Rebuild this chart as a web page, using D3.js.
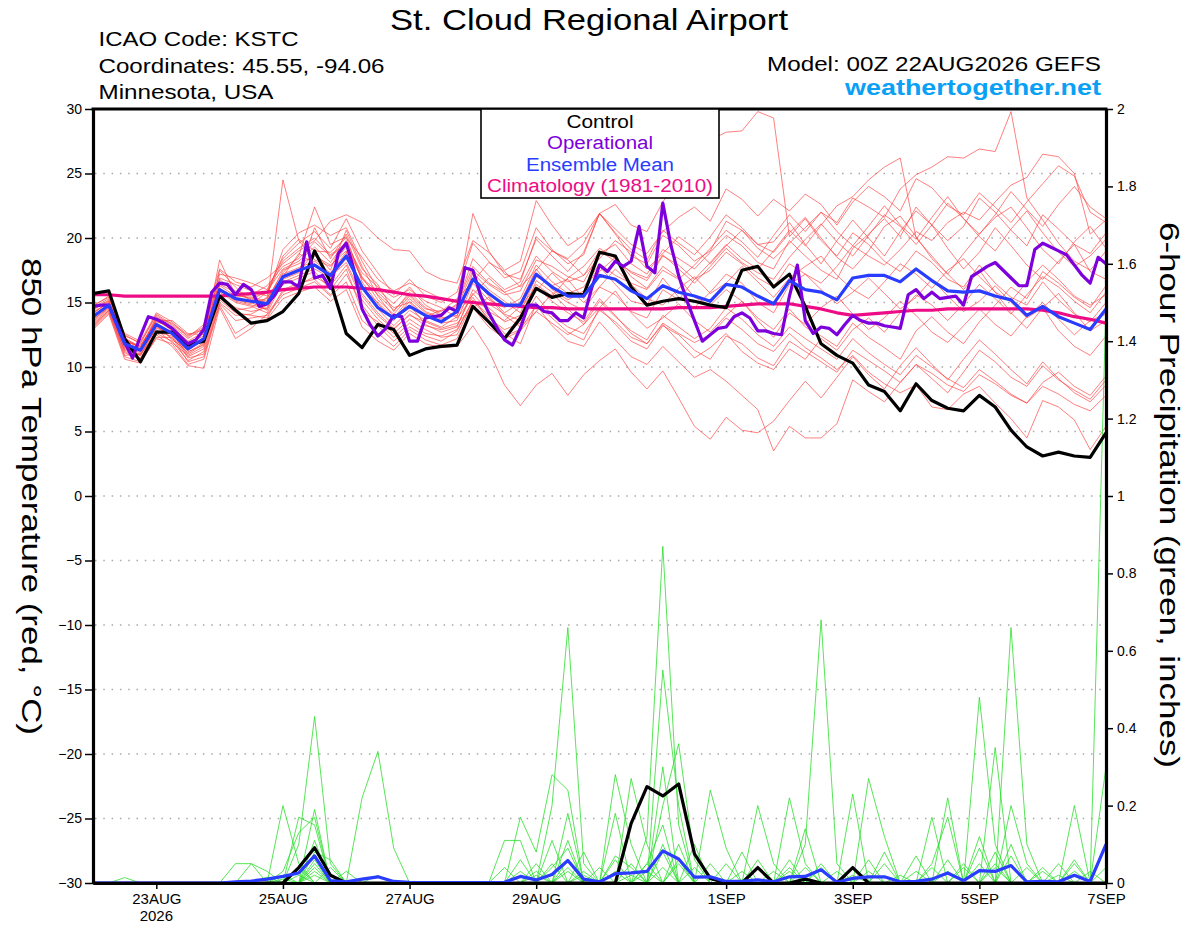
<!DOCTYPE html>
<html>
<head>
<meta charset="utf-8">
<script src="https://cdn.jsdelivr.net/npm/d3@7"></script>
<style>
  body { margin: 0; background: #fff; }
  svg { display: block; font-family: "Liberation Sans", Arial, Helvetica, sans-serif; }
</style>
</head>
<body>
<svg id="chart" width="1200" height="927"></svg>
<script>
const runStart = '2026-08-22T00:00:00Z'
const runEnd = '2026-09-07T00:00:00Z'
const tickDates = ['2026-08-23', '2026-08-25', '2026-08-27', '2026-08-29', '2026-09-01', '2026-09-03', '2026-09-05', '2026-09-07']
const tickLabels = ['23AUG', '25AUG', '27AUG', '29AUG', '1SEP', '3SEP', '5SEP', '7SEP']
const tempTicks = [30, 25, 20, 15, 10, 5, 0, -5, -10, -15, -20, -25, -30]
const precipTicks = [0, 0.2, 0.4, 0.6, 0.8, 1, 1.2, 1.4, 1.6, 1.8, 2]

const controlTemp = [15.7, 15.9, 12.2, 10.4, 12.7, 12.7, 11.7, 12.0, 15.5, 14.4,
  13.4, 13.6, 14.3, 15.7, 19.0, 16.6, 12.6, 11.5, 13.3, 12.9,
  10.9, 11.4, 11.6, 11.7, 14.7, 13.5, 12.2, 13.8, 16.1, 15.4,
  15.7, 15.6, 18.9, 18.6, 16.2, 14.8, 15.1, 15.3, 15.1, 14.8,
  14.6, 17.5, 17.8, 16.2, 17.2, 14.7, 11.8, 10.9, 10.3, 8.6,
  8.1, 6.6, 8.7, 7.4, 6.8, 6.6, 7.8, 6.9, 5.1, 3.8,
  3.1, 3.4, 3.1, 3.0, 4.9]

const meanTemp = [13.9, 14.8, 11.8, 11.3, 13.3, 12.6, 11.4, 12.2, 16.0, 15.3,
  15.1, 14.9, 17.0, 17.5, 17.9, 17.1, 18.6, 16.2, 14.6, 13.8,
  14.7, 14.0, 13.5, 14.3, 16.8, 15.7, 14.8, 14.8, 17.2, 16.2,
  15.5, 15.5, 17.1, 16.8, 15.9, 15.3, 16.3, 15.8, 15.5, 15.1,
  16.4, 16.2, 15.5, 14.9, 16.7, 16.0, 15.8, 15.2, 16.9, 17.1,
  17.1, 16.6, 17.6, 16.7, 15.9, 15.8, 15.9, 15.5, 15.2, 14.0,
  14.7, 13.9, 13.4, 12.9, 14.5]

const climoTemp = [15.6, 15.6, 15.5, 15.5, 15.5, 15.5, 15.5, 15.5, 15.5, 15.6,
  15.7, 15.8, 16.0, 16.1, 16.2, 16.2, 16.2, 16.1, 16.0, 15.8,
  15.6, 15.5, 15.3, 15.1, 15.0, 14.9, 14.8, 14.7, 14.6, 14.6,
  14.5, 14.5, 14.5, 14.5, 14.5, 14.5, 14.5, 14.6, 14.6, 14.6,
  14.7, 14.8, 14.9, 14.9, 14.9, 14.7, 14.5, 14.2, 14.0, 14.1,
  14.2, 14.3, 14.4, 14.4, 14.5, 14.5, 14.5, 14.5, 14.5, 14.5,
  14.4, 14.2, 13.9, 13.7, 13.4]

// operational run is 3-hourly
const operationalTemp = [14.7, 14.8, 14.8, 13.4, 11.9, 10.7, 12.4, 13.9, 13.7, 13.4,
  13.0, 12.4, 11.8, 12.1, 12.9, 15.8, 16.5, 16.4, 15.6, 16.4,
  16.0, 14.7, 14.9, 15.6, 16.6, 16.6, 16.2, 19.7, 16.9, 17.1,
  16.1, 18.8, 19.6, 17.5, 14.5, 13.3, 12.4, 13.0, 14.0, 13.9,
  12.0, 12.0, 13.8, 13.9, 14.0, 14.6, 14.3, 17.7, 17.5, 15.5,
  14.2, 13.1, 12.1, 11.7, 13.0, 14.8, 14.8, 14.3, 14.2, 13.6,
  13.6, 14.2, 13.8, 16.1, 17.9, 17.4, 18.2, 17.8, 18.2, 20.9,
  17.8, 17.3, 22.7, 19.5, 17.1, 15.2, 13.6, 12.0, 12.5, 13.0,
  13.1, 13.9, 14.2, 13.8, 12.8, 12.8, 12.6, 12.5, 15.5, 17.9,
  13.6, 12.6, 13.1, 13.0, 12.5, 13.3, 14.0, 13.6, 13.4, 13.4,
  13.2, 13.1, 13.0, 15.6, 16.0, 15.3, 15.8, 15.3, 15.4, 15.5,
  14.8, 17.0, 17.4, 17.8, 18.1, 17.5, 16.9, 16.3, 16.3, 19.1,
  19.6, 19.3, 19.0, 18.7, 17.9, 17.1, 16.5, 18.5, 18.0]

const memberTemps = [
  [14.2, 15.0, 12.0, 11.6, 13.6, 12.9, 11.8, 12.6, 16.4, 15.8, 15.2, 15.9, 17.6, 18.2, 19.3, 18.1, 19.8, 17.0, 15.2, 14.1, 15.5, 14.3, 13.8, 14.0, 16.9, 15.5, 14.2, 15.0, 17.6, 16.0, 15.2, 15.9, 17.8, 16.4, 15.1, 14.8, 16.9, 15.4, 14.6, 15.8, 17.2, 16.5, 15.0, 14.2, 16.4, 17.2, 16.0, 14.9, 15.8, 16.9, 15.7, 14.5, 15.4, 16.8, 15.5, 14.3, 15.1, 16.3, 15.0, 13.8, 14.6, 15.7, 14.2, 12.8, 13.6],
  [13.2, 14.4, 11.1, 10.6, 12.6, 12.0, 10.5, 11.2, 15.2, 14.2, 14.0, 13.8, 16.0, 16.5, 16.8, 15.6, 17.2, 14.8, 13.2, 12.0, 13.1, 12.4, 12.0, 12.8, 15.2, 14.0, 12.6, 11.8, 14.9, 13.8, 12.7, 12.1, 14.6, 13.3, 12.0, 11.4, 13.2, 12.5, 11.3, 10.6, 12.4, 11.8, 10.7, 10.1, 12.0, 11.2, 10.4, 9.6, 11.3, 10.5, 9.7, 8.8, 10.2, 9.5, 8.6, 8.1, 9.4, 8.7, 7.8, 7.2, 8.5, 7.9, 7.1, 6.6, 7.8],
  [14.8, 15.4, 12.4, 11.9, 14.0, 13.2, 12.2, 13.0, 17.2, 16.9, 16.5, 16.0, 18.4, 19.6, 20.5, 19.2, 21.5, 19.0, 17.3, 15.6, 16.8, 15.5, 15.0, 15.8, 19.6, 18.2, 16.9, 17.4, 20.8, 19.1, 18.0, 18.7, 21.9, 20.3, 18.6, 18.0, 20.2, 19.4, 18.2, 19.0, 21.3, 20.6, 19.2, 18.4, 19.6, 20.8, 22.0, 20.5, 19.4, 20.9, 22.5, 21.0, 19.9, 21.6, 23.2, 21.5, 20.1, 19.0, 20.7, 22.1, 20.4, 18.9, 17.8, 18.6, 19.9],
  [13.6, 14.7, 11.5, 10.9, 13.1, 12.5, 11.0, 11.8, 15.8, 15.0, 14.7, 14.2, 16.6, 17.1, 17.6, 16.9, 18.4, 16.3, 14.5, 13.2, 14.4, 13.6, 13.1, 13.9, 17.3, 16.0, 15.1, 14.2, 17.0, 16.3, 16.8, 15.3, 17.4, 18.5, 17.0, 16.1, 17.8, 16.9, 15.4, 14.8, 16.0, 15.1, 13.8, 12.9, 14.5, 13.1, 12.4, 11.6, 13.4, 12.3, 11.5, 10.6, 12.8, 13.9, 12.7, 11.8, 13.5, 14.8, 16.2, 15.3, 17.4, 16.5, 15.4, 14.6, 16.3],
  [13.0, 14.2, 10.8, 10.4, 12.2, 11.8, 10.2, 10.6, 14.8, 12.6, 13.4, 13.7, 15.3, 15.8, 16.2, 15.1, 16.0, 13.1, 12.0, 11.3, 12.6, 11.8, 11.5, 11.6, 13.2, 11.3, 8.6, 7.0, 8.6, 9.5, 7.8, 9.4, 10.5, 11.4, 9.6, 8.3, 9.7, 7.6, 5.4, 4.4, 6.1, 5.1, 4.9, 5.8, 7.4, 8.9, 7.6, 9.2, 10.8, 9.4, 8.3, 10.1, 11.5, 10.2, 9.0, 10.6, 12.1, 11.0, 9.8, 8.7, 10.4, 9.1, 8.0, 7.3, 8.6],
  [14.4, 15.2, 12.3, 11.4, 13.8, 13.4, 12.5, 12.9, 16.9, 16.4, 15.9, 15.5, 19.1, 20.4, 21.0, 20.2, 20.8, 18.2, 16.0, 14.9, 16.2, 14.8, 14.1, 14.8, 18.4, 17.1, 16.0, 16.6, 20.1, 19.0, 18.4, 19.6, 21.9, 22.6, 21.0, 20.5, 22.8, 24.5, 25.8, 27.6, 28.2, 28.3, 29.8, 29.3, 20.1, 21.5, 19.8, 18.6, 20.4, 19.5, 18.2, 17.4, 19.0, 18.1, 16.8, 16.2, 17.9, 16.5, 15.4, 14.8, 16.6, 15.2, 14.1, 13.5, 15.0],
  [13.8, 14.9, 11.7, 11.2, 13.4, 12.1, 11.3, 12.1, 18.3, 15.6, 15.3, 15.0, 24.5, 19.8, 18.3, 17.8, 19.3, 16.9, 15.8, 14.6, 15.0, 13.9, 14.4, 14.6, 17.5, 16.4, 15.6, 15.9, 18.3, 17.8, 17.0, 16.6, 18.8, 19.5, 18.0, 17.2, 19.1, 18.4, 17.6, 18.9, 20.2, 19.4, 18.1, 17.6, 19.8, 18.6, 17.5, 16.8, 19.2, 20.3, 21.5, 20.1, 22.4, 21.0, 19.8, 20.9, 23.1, 22.0, 20.6, 19.4, 21.8, 20.7, 19.5, 18.8, 20.4],
  [13.4, 14.5, 11.3, 10.9, 12.8, 12.7, 10.8, 11.4, 15.5, 14.6, 14.3, 14.6, 16.9, 17.4, 18.9, 17.5, 20.6, 17.8, 15.5, 13.9, 14.8, 13.3, 12.7, 13.1, 16.0, 14.9, 14.1, 13.6, 16.7, 15.8, 15.0, 14.4, 16.2, 15.6, 14.3, 13.8, 16.0, 15.2, 16.8, 18.1, 19.5, 18.4, 17.6, 19.0, 20.6, 19.4, 21.0, 22.5, 23.2, 24.5, 25.5, 26.2, 20.0, 18.6, 17.2, 16.0, 17.5, 15.8, 14.2, 13.0, 14.6, 12.8, 11.6, 10.9, 12.4],
  [14.0, 14.8, 12.1, 11.5, 13.9, 13.0, 11.9, 12.4, 16.1, 15.3, 15.0, 15.3, 17.3, 18.6, 22.4, 19.5, 20.1, 16.6, 14.9, 13.6, 15.1, 14.0, 13.4, 13.6, 16.5, 15.2, 14.6, 15.3, 17.9, 16.6, 15.7, 16.2, 18.0, 17.1, 16.5, 16.0, 17.5, 16.8, 17.9, 19.2, 20.6, 19.7, 18.5, 20.2, 21.8, 20.5, 22.0, 21.2, 23.1, 22.4, 21.6, 23.8, 24.9, 25.5, 26.3, 26.2, 26.9, 26.7, 29.8, 23.1, 21.4, 19.6, 18.2, 17.5, 19.0],
  [13.1, 14.3, 10.9, 11.0, 12.5, 11.6, 10.1, 9.9, 14.6, 12.2, 13.0, 14.1, 15.8, 16.4, 17.0, 16.3, 17.9, 15.2, 13.7, 12.6, 13.7, 12.9, 12.3, 12.5, 15.0, 14.6, 13.5, 14.0, 16.4, 15.5, 16.9, 17.8, 19.2, 18.4, 17.3, 16.7, 18.6, 17.9, 16.8, 17.5, 18.9, 18.0, 16.9, 16.2, 18.0, 17.2, 16.5, 17.8, 19.4, 18.6, 17.9, 19.1, 20.5, 19.8, 21.2, 22.0, 21.4, 22.8, 24.1, 24.7, 26.5, 26.3, 25.0, 20.3, 21.4],
  [14.6, 15.3, 12.6, 12.0, 14.2, 13.5, 12.3, 13.3, 17.6, 16.6, 16.2, 16.9, 18.0, 19.0, 19.8, 21.3, 21.8, 21.2, 20.0, 19.1, 19.0, 17.4, 16.8, 16.5, 19.8, 18.9, 17.5, 18.2, 22.9, 21.0, 19.4, 20.2, 21.9, 20.7, 19.5, 18.8, 20.5, 21.6, 22.4, 21.3, 23.8, 23.0, 21.7, 23.0, 22.1, 23.4, 22.6, 21.0, 22.8, 24.0, 23.2, 22.1, 24.6, 23.9, 22.5, 21.8, 23.5, 22.4, 21.2, 22.8, 24.2, 25.6, 24.8, 22.0, 21.2],
  [13.7, 14.6, 11.6, 11.1, 13.2, 12.2, 11.1, 11.9, 15.9, 15.1, 14.8, 14.5, 17.2, 17.7, 18.2, 17.3, 18.9, 15.7, 14.2, 13.0, 14.0, 13.5, 13.0, 13.4, 14.6, 15.4, 14.0, 13.1, 14.3, 15.7, 14.5, 13.3, 14.6, 15.9, 14.2, 13.0, 13.8, 14.9, 13.6, 12.7, 14.0, 15.1, 13.6, 12.3, 14.2, 13.3, 14.6, 15.5, 14.1, 12.9, 13.8, 15.1, 14.0, 12.7, 11.9, 13.2, 14.5, 13.3, 12.4, 13.9, 15.0, 13.7, 12.5, 13.6, 14.1],
  [14.1, 15.1, 11.9, 11.7, 13.5, 13.1, 12.0, 12.7, 16.6, 15.9, 15.6, 16.3, 17.8, 18.4, 19.7, 18.6, 19.5, 17.3, 16.2, 15.4, 16.0, 15.1, 14.6, 13.8, 15.4, 13.6, 12.4, 12.9, 14.8, 13.2, 12.0, 11.6, 13.5, 12.1, 10.8, 10.2, 11.6, 10.4, 9.2, 9.8, 8.9, 7.8, 6.7, 3.5, 5.4, 4.5, 4.5, 5.6, 9.0, 8.1, 7.3, 8.8, 10.2, 9.1, 8.0, 9.6, 11.3, 10.4, 9.2, 8.5, 10.1, 9.0, 8.2, 7.5, 9.0],
  [13.3, 14.4, 11.2, 10.7, 12.7, 12.4, 10.7, 11.0, 15.0, 14.0, 14.1, 14.8, 16.4, 16.9, 17.4, 16.0, 17.6, 14.3, 13.5, 12.3, 13.4, 12.6, 12.4, 12.9, 15.1, 13.8, 12.9, 13.4, 15.5, 14.0, 13.1, 12.6, 14.4, 13.5, 12.3, 11.8, 13.4, 12.6, 11.9, 12.5, 13.8, 12.9, 11.8, 11.2, 12.6, 11.5, 10.7, 9.8, 10.9, 9.6, 8.7, 8.0, 8.6, 6.9, 6.7, 7.9, 8.5, 7.2, 6.0, 4.5, 7.4, 6.9, 5.9, 3.6, 5.4],
  [14.3, 14.9, 12.2, 11.3, 13.7, 12.8, 11.6, 12.2, 16.3, 15.5, 15.4, 15.1, 17.5, 18.0, 18.6, 17.9, 19.0, 16.1, 15.0, 13.8, 15.3, 14.2, 13.7, 14.2, 15.6, 16.9, 15.8, 14.6, 15.9, 17.3, 16.1, 15.0, 16.2, 17.6, 16.4, 15.3, 14.8, 16.1, 17.0, 15.7, 16.5, 17.8, 16.6, 15.4, 16.9, 17.8, 18.6, 17.1, 16.0, 15.3, 16.6, 18.0, 17.2, 16.1, 17.5, 18.4, 17.0, 15.8, 15.1, 16.6, 17.9, 16.8, 15.5, 14.8, 15.6],
  [13.5, 14.6, 11.4, 11.0, 13.0, 12.6, 11.2, 11.7, 17.5, 16.2, 15.0, 14.4, 16.8, 17.3, 20.8, 18.4, 20.3, 17.6, 16.4, 14.3, 15.8, 14.6, 14.0, 14.9, 17.8, 16.5, 15.8, 16.3, 18.6, 17.4, 16.6, 17.1, 19.0, 18.2, 17.4, 16.9, 18.7, 17.6, 16.5, 17.8, 19.2, 18.1, 17.3, 16.8, 18.5, 19.9, 21.1, 19.7, 18.6, 20.2, 21.8, 20.9, 19.5, 21.0, 22.7, 21.5, 20.3, 21.8, 23.6, 22.2, 20.9, 22.6, 24.0, 22.4, 21.5],
  [14.7, 15.5, 12.5, 11.8, 14.1, 13.3, 12.4, 13.1, 15.4, 14.4, 14.6, 15.4, 17.0, 18.8, 18.0, 17.0, 18.1, 15.5, 14.0, 12.9, 14.1, 13.2, 12.9, 13.2, 15.7, 14.3, 13.6, 14.7, 16.2, 15.1, 14.2, 13.5, 15.3, 14.0, 12.6, 11.8, 13.3, 12.0, 10.7, 11.5, 12.6, 11.2, 10.3, 9.8, 11.4, 10.6, 12.2, 11.3, 12.9, 13.8, 12.7, 14.2, 15.6, 14.8, 13.6, 14.9, 16.4, 15.3, 14.1, 15.6, 17.0, 16.2, 15.1, 14.2, 15.8],
  [13.9, 14.7, 11.8, 11.3, 12.9, 11.9, 10.9, 11.6, 16.8, 15.7, 15.5, 15.7, 18.2, 19.2, 20.0, 18.7, 19.6, 16.8, 15.6, 14.4, 15.6, 14.5, 14.3, 15.3, 16.6, 18.1, 17.4, 16.2, 17.5, 19.0, 18.3, 17.1, 18.4, 19.8, 18.9, 17.6, 18.8, 20.1, 19.2, 18.0, 19.4, 20.6, 19.5, 19.7, 21.2, 19.5, 18.0, 19.8, 21.4, 20.0, 18.6, 20.5, 22.1, 21.0, 19.2, 17.6, 18.9, 20.8, 19.4, 17.9, 16.8, 18.2, 19.5, 17.4, 16.8],
  [12.9, 14.1, 10.6, 10.3, 12.3, 12.3, 10.4, 10.8, 14.9, 13.6, 13.8, 14.0, 15.6, 16.1, 16.6, 15.5, 16.6, 13.6, 12.6, 11.6, 12.9, 12.1, 11.7, 12.2, 14.6, 13.1, 12.2, 12.8, 14.3, 13.4, 12.5, 13.3, 15.1, 13.9, 12.8, 12.1, 14.0, 13.1, 12.2, 13.0, 14.6, 13.7, 12.5, 11.6, 13.1, 12.2, 11.4, 10.6, 12.2, 11.1, 10.2, 9.4, 10.9, 10.0, 9.1, 8.4, 9.8, 8.9, 7.9, 7.2, 8.8, 9.6, 8.5, 7.8, 9.3],
  [14.5, 15.1, 12.2, 11.6, 13.6, 13.6, 12.6, 12.5, 16.0, 15.2, 14.9, 15.8, 18.6, 19.9, 19.0, 18.9, 20.0, 18.5, 16.8, 15.9, 16.5, 15.9, 15.3, 15.0, 21.9, 19.0, 17.2, 16.8, 19.9, 18.6, 17.4, 18.9, 21.9, 20.4, 19.1, 18.3, 20.6, 19.6, 18.7, 20.1, 21.8, 20.8, 19.5, 18.9, 20.4, 21.6, 20.0, 18.5, 17.6, 19.0, 20.9, 21.7, 20.1, 18.4, 17.2, 18.8, 20.3, 21.6, 22.4, 20.8, 19.1, 18.0, 19.7, 20.9, 19.2]
]

const controlPrecip = [0, 0, 0, 0, 0, 0, 0, 0, 0, 0,
  0, 0, 0, 0.04, 0.091, 0.02, 0, 0, 0, 0,
  0, 0, 0, 0, 0, 0, 0, 0, 0, 0,
  0, 0, 0, 0, 0.154, 0.249, 0.225, 0.256, 0.075, 0.012,
  0, 0, 0.04, 0, 0, 0.01, 0, 0, 0.04, 0,
  0, 0, 0, 0, 0, 0, 0, 0, 0, 0,
  0, 0, 0, 0, 0]

const meanPrecip = [0, 0, 0, 0, 0, 0, 0, 0, 0, 0.003,
  0.005, 0.01, 0.017, 0.026, 0.07, 0.006, 0.003, 0.01, 0.016, 0.004,
  0.002, 0.001, 0.001, 0.001, 0.001, 0.001, 0.002, 0.017, 0.008, 0.022,
  0.058, 0.01, 0.003, 0.024, 0.026, 0.03, 0.083, 0.062, 0.015, 0.016,
  0.004, 0.004, 0.008, 0.003, 0.016, 0.017, 0.034, 0.002, 0.012, 0.016,
  0.016, 0.003, 0.004, 0.01, 0.026, 0.006, 0.032, 0.03, 0.045, 0.003,
  0.004, 0.003, 0.02, 0.004, 0.1]

const memberPrecips = [
  [0, 0, 0, 0, 0, 0, 0, 0, 0, 0, 0, 0, 0, 0.1, 0.43, 0.05, 0, 0, 0, 0, 0, 0, 0, 0, 0, 0, 0, 0, 0, 0.2, 0.66, 0.05, 0, 0, 0, 0, 0, 0, 0, 0, 0, 0, 0, 0, 0, 0.1, 0.68, 0.05, 0, 0, 0, 0, 0, 0, 0, 0, 0, 0, 0.2, 0.05, 0, 0, 0, 0, 0],
  [0, 0, 0, 0, 0, 0, 0, 0, 0, 0, 0, 0, 0.2, 0.05, 0, 0, 0, 0, 0, 0, 0, 0, 0, 0, 0, 0, 0, 0, 0, 0, 0, 0, 0, 0, 0, 0.12, 0.87, 0.15, 0, 0, 0, 0, 0, 0, 0, 0, 0, 0, 0, 0, 0, 0, 0, 0, 0, 0, 0.48, 0.1, 0, 0, 0, 0, 0, 0, 0.3],
  [0, 0, 0, 0, 0, 0, 0, 0, 0, 0, 0, 0, 0, 0, 0, 0, 0, 0.22, 0.34, 0.09, 0, 0, 0, 0, 0, 0, 0, 0, 0, 0, 0, 0, 0, 0, 0, 0, 0.55, 0.2, 0, 0, 0, 0, 0, 0, 0.22, 0.05, 0, 0, 0, 0, 0, 0, 0, 0, 0, 0, 0, 0, 0, 0, 0, 0, 0, 0, 0],
  [0, 0, 0, 0, 0, 0, 0, 0, 0, 0, 0, 0, 0, 0, 0.19, 0, 0, 0, 0, 0, 0, 0, 0, 0, 0, 0, 0, 0, 0, 0, 0, 0, 0, 0.28, 0.1, 0, 0.2, 0.36, 0.06, 0, 0, 0, 0, 0, 0, 0, 0, 0, 0, 0, 0, 0, 0, 0, 0, 0, 0, 0, 0.66, 0.1, 0, 0, 0.2, 0, 0],
  [0, 0, 0, 0, 0, 0, 0, 0, 0, 0, 0, 0, 0, 0.17, 0.15, 0, 0, 0, 0, 0, 0, 0, 0, 0, 0, 0, 0, 0.17, 0.08, 0.28, 0.24, 0, 0, 0, 0, 0, 0, 0, 0, 0, 0, 0, 0, 0, 0, 0, 0, 0, 0, 0.27, 0.12, 0, 0, 0, 0, 0, 0, 0.35, 0, 0, 0, 0, 0, 0, 0],
  [0, 0, 0, 0, 0, 0, 0, 0, 0, 0.05, 0.05, 0, 0, 0, 0.11, 0, 0, 0, 0, 0, 0, 0, 0, 0, 0, 0, 0, 0, 0, 0, 0.18, 0, 0, 0, 0.27, 0.1, 0, 0, 0, 0.24, 0.09, 0, 0, 0, 0, 0, 0, 0, 0, 0, 0, 0, 0, 0, 0.22, 0, 0, 0, 0, 0, 0, 0, 0, 0, 0],
  [0, 0, 0, 0, 0, 0, 0, 0, 0, 0, 0, 0, 0.03, 0.13, 0.17, 0, 0, 0, 0, 0, 0, 0, 0, 0, 0, 0, 0.11, 0.11, 0, 0, 0.11, 0, 0, 0, 0, 0, 0, 0, 0, 0, 0, 0, 0.2, 0.05, 0, 0, 0, 0, 0.23, 0, 0, 0, 0, 0.17, 0, 0, 0, 0, 0, 0, 0, 0, 0, 0, 0],
  [0, 0, 0, 0, 0, 0, 0, 0, 0, 0, 0.05, 0.03, 0, 0, 0, 0, 0, 0, 0, 0, 0, 0, 0, 0, 0, 0, 0, 0, 0, 0, 0, 0, 0, 0.18, 0, 0, 0.3, 0, 0, 0, 0, 0.08, 0, 0, 0, 0, 0, 0, 0, 0, 0, 0, 0, 0.05, 0.17, 0, 0, 0, 0, 0, 0, 0, 0, 0, 1.5],
  [0, 0, 0.014, 0, 0, 0, 0, 0, 0, 0, 0, 0, 0, 0, 0.08, 0.06, 0, 0, 0, 0, 0, 0, 0, 0, 0, 0, 0, 0, 0, 0.11, 0, 0.08, 0, 0, 0, 0.05, 0.15, 0, 0, 0, 0, 0, 0, 0, 0, 0.14, 0, 0, 0, 0, 0, 0, 0.07, 0, 0, 0, 0, 0, 0, 0, 0.04, 0, 0, 0, 0],
  [0, 0, 0, 0, 0, 0, 0, 0, 0, 0, 0, 0, 0, 0, 0.05, 0, 0.03, 0, 0, 0, 0, 0, 0, 0, 0, 0, 0, 0, 0.05, 0, 0.06, 0, 0.04, 0, 0, 0, 0, 0.1, 0, 0, 0.05, 0, 0, 0, 0.06, 0, 0, 0, 0, 0, 0.05, 0, 0, 0, 0, 0, 0.12, 0, 0, 0, 0, 0, 0.05, 0, 0],
  [0, 0, 0, 0, 0, 0, 0, 0, 0, 0, 0, 0, 0, 0.04, 0, 0, 0, 0, 0, 0, 0, 0, 0, 0, 0, 0, 0, 0.06, 0, 0, 0, 0, 0, 0.07, 0.04, 0, 0, 0, 0.1, 0, 0, 0, 0, 0, 0, 0, 0, 0.03, 0, 0, 0, 0, 0, 0, 0, 0.04, 0, 0, 0.1, 0, 0, 0, 0, 0, 0],
  [0, 0, 0, 0, 0, 0, 0, 0, 0, 0, 0, 0, 0, 0, 0, 0.04, 0, 0, 0, 0, 0, 0, 0, 0, 0, 0, 0, 0, 0, 0.05, 0, 0.03, 0, 0, 0, 0, 0.08, 0, 0, 0, 0, 0, 0.06, 0, 0, 0, 0.05, 0, 0, 0, 0, 0.02, 0, 0, 0, 0, 0, 0.08, 0, 0, 0, 0.05, 0, 0, 0],
  [0, 0, 0, 0, 0, 0, 0, 0, 0, 0, 0, 0, 0.02, 0, 0.03, 0, 0, 0, 0, 0, 0, 0, 0, 0, 0, 0, 0, 0, 0, 0, 0.04, 0, 0, 0, 0, 0.03, 0, 0, 0, 0.05, 0, 0, 0, 0, 0, 0, 0, 0, 0.04, 0, 0, 0, 0, 0, 0.06, 0, 0.09, 0, 0, 0, 0, 0, 0, 0, 0.04],
  [0, 0, 0, 0, 0, 0, 0, 0, 0, 0, 0, 0.015, 0, 0, 0, 0, 0, 0, 0, 0, 0, 0, 0, 0, 0, 0, 0, 0, 0.03, 0, 0, 0, 0, 0.06, 0, 0, 0.04, 0, 0, 0, 0, 0, 0, 0, 0.03, 0, 0, 0, 0, 0.06, 0, 0, 0, 0, 0, 0, 0, 0.05, 0, 0, 0.03, 0, 0, 0, 0],
  [0, 0, 0, 0, 0, 0, 0, 0, 0, 0, 0, 0, 0, 0.02, 0, 0, 0, 0, 0, 0, 0, 0, 0, 0, 0, 0, 0.04, 0, 0, 0, 0, 0, 0, 0, 0.05, 0, 0, 0.05, 0, 0, 0, 0, 0, 0.03, 0, 0, 0, 0, 0, 0, 0.08, 0, 0, 0.04, 0, 0, 0, 0, 0, 0, 0, 0, 0.06, 0, 0],
  [0, 0, 0, 0, 0, 0, 0, 0, 0, 0, 0, 0, 0, 0, 0.06, 0, 0, 0, 0, 0, 0, 0, 0, 0, 0, 0, 0, 0, 0, 0.04, 0.09, 0, 0, 0, 0, 0, 0, 0, 0.04, 0, 0, 0, 0, 0, 0, 0.04, 0, 0, 0, 0, 0, 0, 0.03, 0, 0, 0, 0, 0, 0.07, 0, 0, 0, 0, 0.03, 0],
  [0, 0, 0, 0, 0, 0, 0, 0, 0, 0, 0, 0, 0, 0, 0, 0, 0, 0, 0.02, 0, 0, 0, 0, 0, 0, 0, 0, 0, 0, 0, 0, 0.02, 0, 0.03, 0, 0, 0, 0, 0, 0, 0, 0.03, 0, 0, 0, 0, 0, 0, 0, 0.03, 0, 0, 0, 0, 0, 0.05, 0, 0, 0, 0, 0, 0.02, 0, 0, 0],
  [0, 0, 0, 0, 0, 0, 0, 0, 0, 0, 0, 0, 0, 0, 0.02, 0, 0, 0, 0, 0, 0, 0, 0, 0, 0, 0, 0, 0.03, 0, 0, 0, 0, 0, 0, 0, 0.05, 0, 0, 0, 0, 0, 0, 0, 0, 0.04, 0, 0, 0, 0, 0, 0, 0, 0, 0, 0.03, 0, 0, 0, 0, 0.04, 0, 0, 0, 0, 0.1],
  [0, 0, 0, 0, 0, 0, 0, 0, 0, 0, 0, 0, 0.01, 0, 0, 0, 0, 0, 0, 0, 0, 0, 0, 0, 0, 0, 0, 0, 0, 0, 0.03, 0, 0, 0, 0, 0, 0.1, 0, 0, 0, 0, 0, 0, 0, 0, 0, 0.04, 0, 0, 0, 0, 0, 0, 0, 0, 0, 0.05, 0, 0, 0, 0, 0, 0, 0, 0],
  [0, 0, 0, 0, 0, 0, 0, 0, 0, 0, 0, 0, 0, 0, 0.04, 0, 0, 0, 0, 0, 0, 0, 0, 0, 0, 0, 0, 0, 0.02, 0, 0, 0, 0, 0, 0.02, 0, 0, 0.06, 0, 0, 0, 0, 0, 0, 0, 0, 0, 0, 0.02, 0, 0, 0, 0, 0, 0, 0, 0, 0.04, 0, 0, 0, 0, 0.03, 0, 0]
]

const legendItems = [
  { label: 'Control', color: '#000000', width: 67 },
  { label: 'Operational', color: '#7d00dc', width: 106 },
  { label: 'Ensemble Mean', color: '#2a3cff', width: 148 },
  { label: 'Climatology (1981-2010)', color: '#ee0c86', width: 226 }
]

// ---- layout ----
const plot = { left: 93, right: 1106, top: 109, bottom: 883 }
const svg = d3.select('#chart')

const start = new Date(runStart)
const x = d3.scaleUtc()
  .domain([start, new Date(runEnd)])
  .range([plot.left, plot.right])
const yT = d3.scaleLinear().domain([-30, 30]).range([plot.bottom, plot.top])
const yP = d3.scaleLinear().domain([0, 2]).range([plot.bottom, plot.top])

/**
 * Pairs each value with its valid time.
 *
 * @param {number[]} values The series values
 * @param {number} hours The time step of the series
 * @returns {object[]} Points with t and v
 */
function toPoints (values, hours) {
  return values.map((v, i) => ({ t: new Date(start.getTime() + i * hours * 3600000), v: v }))
}

const tempLine = d3.line().x(d => x(d.t)).y(d => yT(d.v))
const precipLine = d3.line().x(d => x(d.t)).y(d => yP(d.v))

// dotted grid at the temperature ticks
svg.append('g')
  .selectAll('line')
  .data(tempTicks.filter(d => d > -30 && d < 30))
  .join('line')
  .attr('x1', plot.left + 2)
  .attr('x2', plot.right - 2)
  .attr('y1', d => yT(d))
  .attr('y2', d => yT(d))
  .attr('stroke', '#a8a8a8')
  .attr('stroke-width', 1.4)
  .attr('stroke-dasharray', '1.5,6.8')

// ensemble members
svg.append('g')
  .selectAll('path')
  .data(memberTemps)
  .join('path')
  .attr('d', d => tempLine(toPoints(d, 6)))
  .attr('fill', 'none')
  .attr('stroke', '#ff3b3b')
  .attr('stroke-opacity', 0.72)
  .attr('stroke-width', 0.9)

svg.append('g')
  .selectAll('path')
  .data(memberPrecips)
  .join('path')
  .attr('d', d => precipLine(toPoints(d, 6)))
  .attr('fill', 'none')
  .attr('stroke', '#22dd22')
  .attr('stroke-opacity', 0.85)
  .attr('stroke-width', 0.9)

/**
 * Draws one thick series line.
 *
 * @param {string} d The path data
 * @param {string} color The stroke colour
 */
function drawThick (d, color) {
  svg.append('path')
    .attr('d', d)
    .attr('fill', 'none')
    .attr('stroke', color)
    .attr('stroke-width', 3.2)
    .attr('stroke-linejoin', 'round')
}

drawThick(tempLine(toPoints(climoTemp, 6)), legendItems[3].color)
drawThick(precipLine(toPoints(controlPrecip, 6)), legendItems[0].color)
drawThick(tempLine(toPoints(controlTemp, 6)), legendItems[0].color)
drawThick(tempLine(toPoints(operationalTemp, 3)), legendItems[1].color)
drawThick(precipLine(toPoints(meanPrecip, 6)), legendItems[2].color)
drawThick(tempLine(toPoints(meanTemp, 6)), legendItems[2].color)

// ---- axes ----
const leftAxis = svg.append('g')
  .attr('transform', 'translate(' + plot.left + ',0)')
  .call(d3.axisLeft(yT).tickValues(tempTicks).tickSize(8).tickPadding(3).tickSizeOuter(0))
const rightAxis = svg.append('g')
  .attr('transform', 'translate(' + plot.right + ',0)')
  .call(d3.axisRight(yP).tickValues(precipTicks).tickSize(7).tickPadding(4).tickSizeOuter(0)
    .tickFormat(d3.format('~g')))
const bottomAxis = svg.append('g')
  .attr('transform', 'translate(0,' + plot.bottom + ')')
  .call(d3.axisBottom(x).tickValues(tickDates.map(d => new Date(d + 'T00:00:00Z')))
    .tickSize(6).tickPadding(4).tickSizeOuter(0)
    .tickFormat((d, i) => tickLabels[i]))

;[leftAxis, rightAxis, bottomAxis].forEach(g => {
  g.select('.domain').attr('stroke-width', 3.2)
  g.selectAll('.tick line').attr('stroke-width', 1.5)
  g.selectAll('.tick text')
    .attr('fill', '#000')
    .attr('font-family', '"Liberation Sans", Arial, sans-serif')
})
leftAxis.selectAll('.tick text').attr('font-size', 14)
rightAxis.selectAll('.tick text').attr('font-size', 14)
bottomAxis.selectAll('.tick text').attr('font-size', 15)

svg.append('line')
  .attr('x1', plot.left - 1.5).attr('x2', plot.right + 1.5)
  .attr('y1', plot.top).attr('y2', plot.top)
  .attr('stroke', '#000').attr('stroke-width', 3.2)

svg.append('text')
  .attr('x', x(new Date(tickDates[0] + 'T00:00:00Z')))
  .attr('y', 921)
  .attr('text-anchor', 'middle')
  .attr('font-size', 15)
  .text('2026')

// ---- legend ----
const legend = svg.append('g')
legend.append('rect')
  .attr('x', 481).attr('y', plot.top)
  .attr('width', 238).attr('height', 89)
  .attr('fill', '#fff')
  .attr('stroke', '#000')
  .attr('stroke-width', 1.6)
legend.selectAll('text')
  .data(legendItems)
  .join('text')
  .attr('x', 600)
  .attr('y', (d, i) => 127.5 + i * 21.5)
  .attr('text-anchor', 'middle')
  .attr('font-size', 18)
  .attr('fill', d => d.color)
  .attr('textLength', d => d.width)
  .attr('lengthAdjust', 'spacingAndGlyphs')
  .text(d => d.label)

// ---- titles ----
/**
 * Places one line of header text.
 *
 * @param {string} str The text
 * @param {number} px The x position
 * @param {number} py The baseline
 * @param {object} opt Size, anchor, width and style
 */
function header (str, px, py, opt) {
  svg.append('text')
    .attr('x', px)
    .attr('y', py)
    .attr('font-size', opt.size)
    .attr('text-anchor', opt.anchor || 'start')
    .attr('font-weight', opt.weight || 'normal')
    .attr('fill', opt.color || '#000')
    .attr('textLength', opt.width)
    .attr('lengthAdjust', 'spacingAndGlyphs')
    .text(str)
}

header('St. Cloud Regional Airport', 589, 29.5, { size: 30, anchor: 'middle', width: 398 })
header('ICAO Code: KSTC', 98.5, 46, { size: 21, width: 200 })
header('Coordinates: 45.55, -94.06', 98.5, 72.5, { size: 21, width: 286 })
header('Minnesota, USA', 98.5, 98.5, { size: 21, width: 175 })
header('Model: 00Z 22AUG2026 GEFS', 1101, 71, { size: 21, anchor: 'end', width: 334 })
header('weathertogether.net', 1101, 95, { size: 22, anchor: 'end', weight: 'bold', color: '#0aa1f5', width: 256 })

svg.append('text')
  .attr('transform', 'translate(22,' + 496.5 + ') rotate(90)')
  .attr('text-anchor', 'middle')
  .attr('font-size', 27)
  .attr('textLength', 477)
  .attr('lengthAdjust', 'spacingAndGlyphs')
  .text('850 hPa Temperature (red, °C)')

svg.append('text')
  .attr('transform', 'translate(1160,' + 495 + ') rotate(90)')
  .attr('text-anchor', 'middle')
  .attr('font-size', 27)
  .attr('textLength', 546)
  .attr('lengthAdjust', 'spacingAndGlyphs')
  .text('6-hour Precipitation (green, inches)')
</script>
</body>
</html>
